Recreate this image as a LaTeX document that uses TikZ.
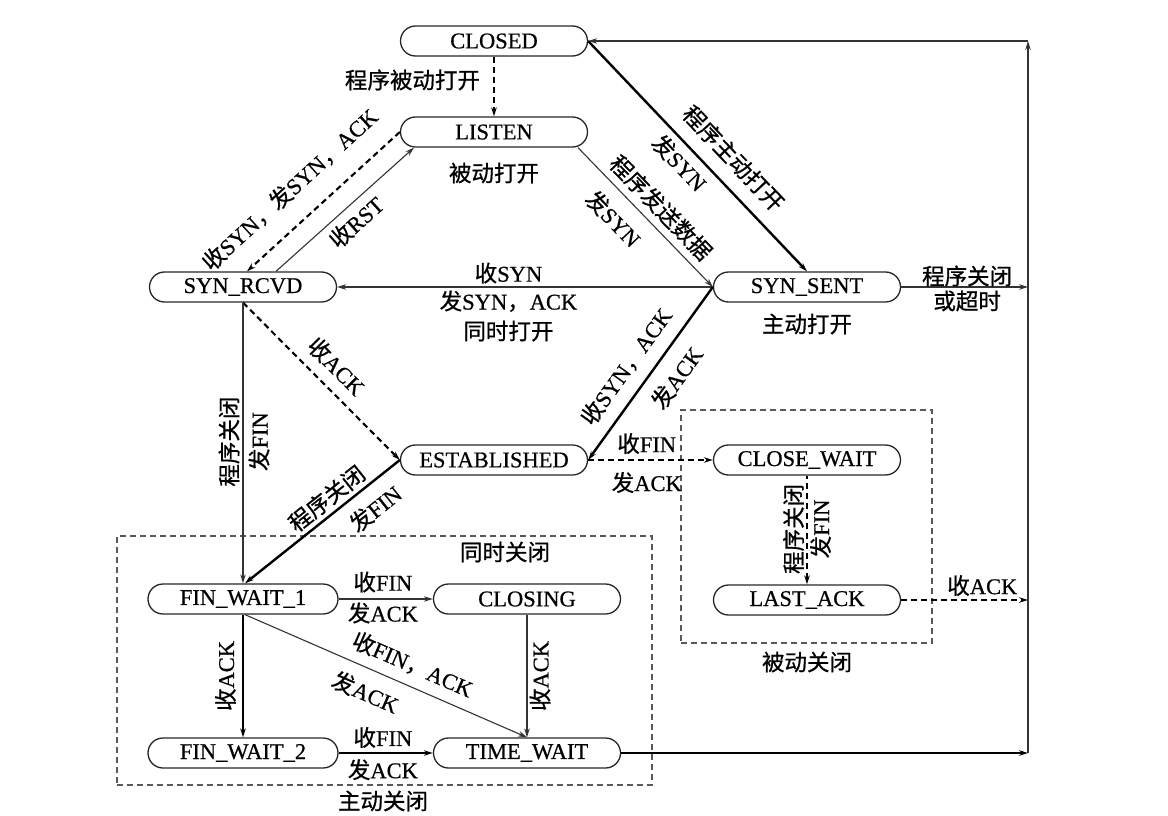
\documentclass[tikz,border=0pt]{standalone}
\usepackage{fontspec}
\setmainfont{Liberation Serif}[FakeBold=0.6]
\newfontfamily\cjk{Noto Sans CJK SC}[FakeBold=0.8]
\usetikzlibrary{arrows.meta}
\newcommand\zh[1]{{\cjk #1}}
\begin{document}
\begin{tikzpicture}[x=1pt,y=-1pt,
  every node/.style={font=\fontsize{22.5}{30}\selectfont},
  state/.style={draw=black!85, line width=1.3pt, rounded corners=15pt, minimum width=187pt, minimum height=30pt, inner sep=0pt},
  thinline/.style={line width=1.1pt, draw=black!80},
  thickline/.style={line width=2.4pt, draw=black},
  dashline/.style={line width=2.1pt, draw=black, dash pattern=on 6pt off 4pt},
  arr/.style={-{Stealth[length=9pt,width=5.5pt]}},
  rarr/.style={{Stealth[length=9pt,width=5.5pt]}-},
  lab/.style={sloped, inner sep=0pt, align=center},
  group/.style={draw=black!65, line width=1.1pt, dash pattern=on 6pt off 4pt, inner sep=0pt},
]
\useasboundingbox (0,0) rectangle (1168,816);
% groups
\node[group, minimum width=535pt, minimum height=249pt] (activebox) at (384.5,660.5) {};
\node[group, minimum width=251pt, minimum height=233pt] (passivebox) at (806.5,526.5) {};
% states
\node[state] (CLOSED) at (494,41) {CLOSED};
\node[state] (LISTEN) at (494,132) {LISTEN};
\node[state] (SYNRCVD) at (243,287) {SYN\_RCVD};
\node[state] (SYNSENT) at (807,287) {SYN\_SENT};
\node[state] (ESTAB) at (494,460) {ESTABLISHED};
\node[state] (CLOSEWAIT) at (807,460) {CLOSE\_WAIT};
\node[state] (LASTACK) at (807,600) {LAST\_ACK};
\node[state, minimum width=190pt] (FW1) at (243,599) {FIN\_WAIT\_1};
\node[state] (CLOSING) at (527,599) {CLOSING};
\node[state, minimum width=190pt] (FW2) at (243,753) {FIN\_WAIT\_2};
\node[state] (TIMEWAIT) at (527,753) {TIME\_WAIT};
% free labels
\node (t1) at (494,173) {\zh{被动打开}};
\node (t2) at (807,324) {\zh{主动打开}};
\node (t3) at (505,552) {\zh{同时关闭}};
\node (t4) at (383,801) {\zh{主动关闭}};
\node (t5) at (807,662) {\zh{被动关闭}};
% right rail
\coordinate (R1) at (1028,287);
\coordinate (R2) at (1028,600);
\coordinate (R3) at (1028,753);
\coordinate (Rtop) at (1028,41);
% edges
\draw[dashline,arr] (CLOSED) -- (LISTEN) node[pos=0.39, left=13pt, inner sep=0pt] {\zh{程序被动打开}};
\draw[dashline,arr] (LISTEN.west) -- ([xshift=4pt]SYNRCVD.north)
  node[lab,pos=0.58,above=20pt] {\zh{收}SYN\zh{，发}SYN\zh{，}ACK};
\draw[thinline,arr] ([xshift=33pt]SYNRCVD.north) -- ([xshift=-80pt]LISTEN.south)
  node[lab,pos=0.5,below=6pt] {\zh{收}RST};
\draw[thinline,arr] ([xshift=84pt]LISTEN.south) -- (SYNSENT.west)
  node[lab,pos=0.52,above=7pt] {\zh{程序发送数据}}
  node[lab,pos=0.39,below=13pt] {\zh{发}SYN};
\draw[thickline,arr] (CLOSED.east) -- (SYNSENT.north)
  node[lab,pos=0.583,above=13pt] {\zh{程序主动打开}}
  node[lab,pos=0.476,below=6pt] {\zh{发}SYN};
\draw[thinline,arr] (SYNSENT.west) -- (SYNRCVD.east)
  node[lab,pos=0.544,above=3pt] {\zh{收}SYN}
  node[lab,pos=0.544,below=3pt] {\zh{发}SYN\zh{，}ACK\\\zh{同时打开}};
\draw[dashline,arr] (SYNRCVD.south) -- (ESTAB.west)
  node[lab,pos=0.5,above=10pt] {\zh{收}ACK};
\draw[thinline,rarr] (FW1.north) -- (SYNRCVD.south)
  node[lab,pos=0.505,above=3pt] {\zh{程序关闭}}
  node[lab,pos=0.505,below=5pt] {\zh{发}FIN};
\draw[thickline,arr] (ESTAB.west) -- ([xshift=2pt]FW1.north)
  node[lab,pos=0.41,above=4pt] {\zh{程序关闭}}
  node[lab,pos=0.25,below=11pt] {\zh{发}FIN};
\draw[thickline,arr] (SYNSENT.west) -- (ESTAB.east)
  node[lab,pos=0.54,above=12pt] {\zh{收}SYN\zh{，}ACK}
  node[lab,pos=0.444,below=12pt] {\zh{发}ACK};
\draw[dashline,arr] (ESTAB.east) -- (CLOSEWAIT.west)
  node[lab,pos=0.47,above=5pt] {\zh{收}FIN}
  node[lab,pos=0.47,below=11pt] {\zh{发}ACK};
\draw[dashline,rarr] (LASTACK.north) -- (CLOSEWAIT.south)
  node[lab,pos=0.51,above=2pt] {\zh{程序关闭}}
  node[lab,pos=0.51,below=2pt] {\zh{发}FIN};
\draw[dashline,arr] (LASTACK.east) -- (R2)
  node[lab,pos=0.64,above=3pt] {\zh{收}ACK};
\draw[thinline,arr] (FW1.east) -- (CLOSING.west)
  node[lab,pos=0.47,above=6pt] {\zh{收}FIN}
  node[lab,pos=0.47,below=3pt] {\zh{发}ACK};
\draw[thickline,rarr] (FW2.north) -- (FW1.south)
  node[lab,pos=0.5,above=6pt] {\zh{收}ACK};
\draw[thinline,arr] ([xshift=2pt]FW1.south) -- (TIMEWAIT.north)
  node[lab,pos=0.565,above=10pt] {\zh{收}FIN\zh{，}ACK}
  node[lab,pos=0.46,below=12pt] {\zh{发}ACK};
\draw[thinline,rarr] (TIMEWAIT.north) -- (CLOSING.south)
  node[lab,pos=0.5,below=2pt] {\zh{收}ACK};
\draw[thickline,arr] (FW2.east) -- (TIMEWAIT.west)
  node[lab,pos=0.47,above=4pt] {\zh{收}FIN}
  node[lab,pos=0.47,below=5pt] {\zh{发}ACK};
\draw[thickline,arr] (TIMEWAIT.east) -- (R3);
\draw[thinline,arr] (SYNSENT.east) -- (R1)
  node[lab,pos=0.52,above=0pt] {\zh{程序关闭}}
  node[lab,pos=0.52,below=3pt] {\zh{或超时}};
\draw[thinline,arr] (R3) -- (Rtop);
\draw[thinline,arr] (Rtop) -- (CLOSED.east);
\end{tikzpicture}
\end{document}
